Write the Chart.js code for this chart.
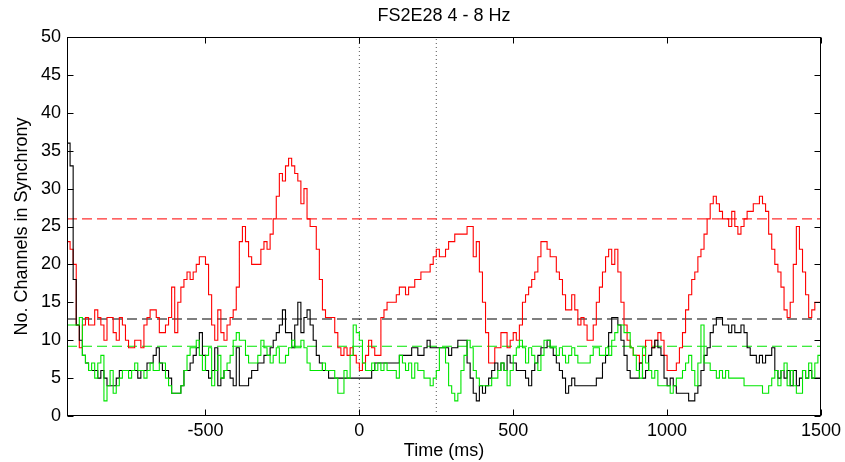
<!DOCTYPE html>
<html><head><meta charset="utf-8">
<script src="https://cdn.jsdelivr.net/npm/chart.js@4.4.1/dist/chart.umd.min.js"></script>
<style>html,body{margin:0;padding:0;background:#fff}#wrap{width:845px;height:462px}</style>
</head><body><div id="wrap"><canvas id="c" width="845" height="462"></canvas></div>
<script>
// time axis (ms): first sample and sampling step
const timeStart = -950;
const timeStep = 10;

const redValues = [
  23,22,20,12,9,12,13,12,12,14,
  13,12,10,13,13,11,10,13,12,10,
  9,9,10,10,9,12,13,14,14,13,
  11,11,12,13,17,11,15,17,18,19,
  18,19,20,21,21,20,16,12,10,14,
  11,10,12,13,14,17,23,25,23,21,
  20,20,20,22,23,22,24,26,29,32,
  31,33,34,33,32,31,28,30,26,25,
  25,22,18,14,13,13,13,11,9,8,
  9,8,9,8,7,6,7,8,10,9,
  8,8,13,14,15,15,15,16,17,17,
  16,17,17,18,18,19,19,19,20,21,
  22,21,21,22,23,23,24,24,24,24,
  25,25,21,23,19,15,11,7,7,9,
  9,11,11,9,10,11,10,12,15,16,
  17,18,19,21,23,23,22,21,21,19,
  18,16,14,14,16,14,12,13,12,10,
  10,12,15,17,19,21,22,20,22,19,
  15,12,10,9,8,8,7,8,10,10,
  9,10,11,10,8,6,6,6,7,9,
  11,14,16,18,19,21,22,24,26,28,
  29,28,27,26,26,25,27,25,24,25,
  26,27,27,28,28,29,28,27,24,22,
  20,19,17,14,13,15,20,25,22,19,
  16,13,14,15,15,13
];

const blackValues = [
  36,33,18,12,10,8,7,6,6,6,
  5,6,5,4,4,4,5,6,6,6,
  6,6,6,5,6,6,7,7,8,9,
  7,6,6,5,3,3,3,4,6,6,
  7,8,9,11,8,6,5,6,9,4,
  5,6,6,5,4,9,4,4,4,5,
  6,6,7,7,8,8,9,10,11,12,
  14,11,11,9,12,15,11,13,14,12,
  10,8,7,6,6,5,5,5,5,5,
  5,5,5,5,5,5,5,5,5,6,
  7,7,7,7,7,7,7,7,8,8,
  8,8,9,9,8,8,9,10,9,9,
  9,9,9,9,8,9,9,10,10,10,
  7,5,3,2,4,3,4,5,6,7,
  6,7,6,8,7,7,6,6,6,5,
  4,6,7,8,9,9,10,9,8,7,
  6,5,3,4,5,4,4,4,4,4,
  4,4,5,5,7,8,11,13,13,12,
  10,8,6,5,5,5,7,5,6,8,
  9,10,9,8,5,4,5,4,3,3,
  3,3,2,2,3,4,6,8,9,11,
  12,13,13,12,12,11,12,11,11,12,
  11,9,8,8,7,8,7,8,8,9,
  6,5,6,5,6,4,6,4,5,6,
  5,6,5,5,5,5
];

const greenValues = [
  12,12,12,12,13,8,7,6,7,5,
  7,8,2,4,6,3,4,5,6,6,
  5,6,7,6,6,5,6,7,6,6,
  7,7,5,4,3,3,3,4,6,8,
  9,9,10,8,6,8,9,4,6,8,
  5,6,7,8,10,11,10,10,8,7,
  7,7,8,10,9,8,7,8,9,7,
  7,8,9,10,9,9,10,9,7,6,
  6,6,6,7,6,6,6,5,3,3,
  6,5,8,12,11,10,7,6,6,7,
  6,7,6,7,6,6,6,5,8,7,
  6,7,5,7,6,6,5,5,4,5,
  6,9,9,7,4,3,2,3,6,8,
  10,9,6,5,4,4,4,4,5,5,
  6,7,6,4,6,8,9,10,9,7,
  9,8,7,6,8,10,10,9,9,8,
  9,8,7,8,9,8,7,7,7,7,
  8,9,9,8,8,9,8,10,11,12,
  12,11,11,9,8,6,5,9,7,6,
  5,6,4,4,4,4,3,4,5,5,
  6,7,8,6,4,7,12,7,7,6,
  6,5,6,5,6,5,5,5,5,5,
  4,4,4,4,4,4,3,3,4,5,
  6,4,6,7,4,6,4,3,3,6,
  5,7,5,7,8,8
];

// significance thresholds (dashed lines)
const thresholdRed = 26;
const thresholdBlack = 12.8;
const thresholdGreen = 9.2;
// event markers (dotted vertical lines), ms
const markerTimes = [0, 250];
// axes
const xRange = [-950, 1500];
const yRange = [0, 50];
const xTickValues = [-500, 0, 500, 1000, 1500];
const yTickStep = 5;

const toPoints = vals => vals.map((v, i) => ({x: timeStart + i * timeStep, y: v}));
const hLine = v => [{x: xRange[0], y: v}, {x: xRange[1], y: v}];
const vLine = t => [{x: t, y: yRange[0]}, {x: t, y: yRange[1]}];

const FONT = "'Liberation Sans', Arial, Helvetica, sans-serif";
const FS = 18;

const frame = {
  id: 'frame',
  afterDatasetsDraw(chart) {
    const {ctx, chartArea: a, scales: {x, y}} = chart;
    const L = Math.round(a.left) + 0.5, R = Math.round(a.right) - 0.5;
    const T = Math.round(a.top) + 0.5, B = Math.round(a.bottom) - 0.5;
    ctx.save();
    ctx.strokeStyle = '#000';
    ctx.lineWidth = 1;
    ctx.setLineDash([]);
    ctx.strokeRect(L, T, R - L, B - T);
    const tl = 6;
    ctx.beginPath();
    x.ticks.forEach(t => {
      const px = Math.round(x.getPixelForValue(t.value)) + 0.5;
      ctx.moveTo(px, B); ctx.lineTo(px, B - tl);
      ctx.moveTo(px, T); ctx.lineTo(px, T + tl);
    });
    y.ticks.forEach(t => {
      const py = Math.round(y.getPixelForValue(t.value)) + 0.5;
      ctx.moveTo(L, py); ctx.lineTo(L + tl, py);
      ctx.moveTo(R, py); ctx.lineTo(R - tl, py);
    });
    ctx.stroke();
    ctx.restore();
  }
};

const lineDs = (label, pts, color, order, extra) => Object.assign({
  label, data: pts, borderColor: color, backgroundColor: color,
  borderWidth: 1.1, pointRadius: 0, fill: false, tension: 0, order
}, extra || {});

new Chart(document.getElementById('c'), {
  type: 'line',
  data: {
    datasets: [
      lineDs('green', toPoints(greenValues), '#00e600', 1, {stepped: true}),
      lineDs('black', toPoints(blackValues), '#000000', 2, {stepped: true}),
      lineDs('red', toPoints(redValues), '#ff0000', 3, {stepped: true}),
      lineDs('red threshold', hLine(thresholdRed), '#ff3030', 4, {borderDash: [10, 5]}),
      lineDs('black threshold', hLine(thresholdBlack), '#000000', 5, {borderDash: [10, 5]}),
      lineDs('green threshold', hLine(thresholdGreen), '#00e600', 6, {borderDash: [10, 5]}),
      lineDs('marker 1', vLine(markerTimes[0]), '#555555', 7, {borderDash: [1, 3], borderWidth: 1}),
      lineDs('marker 2', vLine(markerTimes[1]), '#555555', 8, {borderDash: [1, 3], borderWidth: 1})
    ]
  },
  options: {
    responsive: false,
    animation: false,
    devicePixelRatio: 1,
    layout: {padding: {left: 0, right: 23, top: 0, bottom: 0}},
    plugins: {
      legend: {display: false},
      tooltip: {enabled: false},
      title: {
        display: true, text: 'FS2E28 4 - 8 Hz', color: '#000', fullSize: false,
        font: {family: FONT, size: FS, weight: 'normal'},
        padding: {top: 5, bottom: 10.4}
      }
    },
    scales: {
      x: {
        type: 'linear', min: xRange[0], max: xRange[1],
        afterBuildTicks: s => { s.ticks = xTickValues.map(v => ({value: v})); },
        afterFit: s => { s.height = 46; },
        grid: {display: false, drawTicks: false},
        border: {display: false},
        ticks: {color: '#000', font: {family: FONT, size: FS}, padding: 4, maxRotation: 0,
                callback: v => String(v)},
        title: {display: true, text: 'Time (ms)', color: '#000',
                font: {family: FONT, size: FS}, padding: {top: 0, bottom: 0}}
      },
      y: {
        type: 'linear', min: yRange[0], max: yRange[1],
        ticks: {stepSize: yTickStep, color: '#000', font: {family: FONT, size: FS}, padding: 6,
                callback: v => String(v)},
        afterFit: s => { s.width = 67; },
        grid: {display: false, drawTicks: false},
        border: {display: false},
        title: {display: true, text: 'No. Channels in Synchrony', color: '#000',
                font: {family: FONT, size: FS}, padding: {top: 11, bottom: 0}}
      }
    }
  },
  plugins: [frame]
});
</script></body></html>
